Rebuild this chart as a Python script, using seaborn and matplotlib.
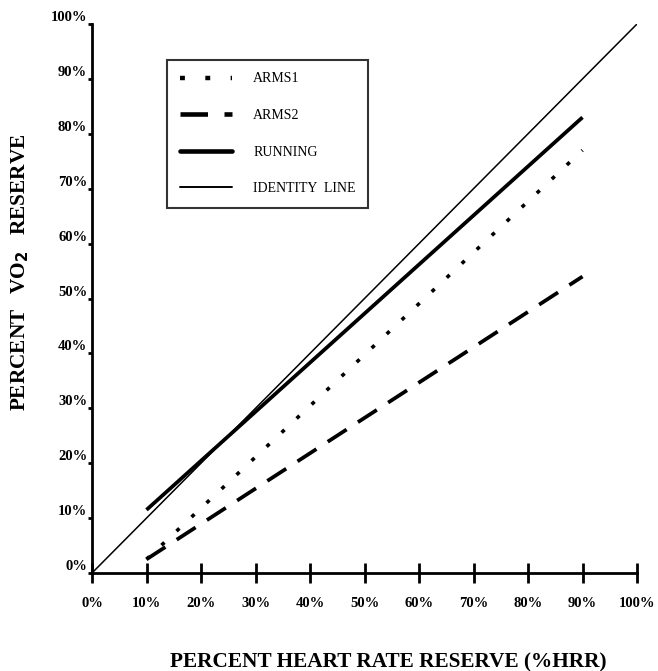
import matplotlib
matplotlib.use("Agg")
import matplotlib.pyplot as plt
import seaborn as sns
import pandas as pd
from matplotlib.lines import Line2D

# ---- data ----
hrr = [10, 90]
arms1 = [2.5, 77]
arms2 = [2.5, 54]
running = [11.5, 83]
identity_x = [0, 100]
identity_y = [0, 100]
tick_vals = list(range(0, 101, 10))
tick_labels = [f"{v}%" for v in tick_vals]
series_names = ["ARMS1", "ARMS2", "RUNNING", "IDENTITY  LINE"]

sns.set_theme(style="white")
plt.rcParams['font.family'] = ['Liberation Serif', 'DejaVu Serif']
plt.rcParams['text.color'] = 'black'
plt.rcParams['axes.labelcolor'] = 'black'
plt.rcParams['xtick.color'] = 'black'
plt.rcParams['ytick.color'] = 'black'

fig = plt.figure(figsize=(6.58, 6.71), dpi=100)
ax = fig.add_axes([92/658, 1-573/671, (637-92)/658, (573-24)/671])

df1 = pd.DataFrame({"x": hrr, "y": arms1})
df2 = pd.DataFrame({"x": hrr, "y": arms2})
df3 = pd.DataFrame({"x": hrr, "y": running})
df4 = pd.DataFrame({"x": identity_x, "y": identity_y})

styles = {
    "ARMS1": dict(lw=2.6, dashes=(1.1, 4.6)),
    "ARMS2": dict(lw=2.7, dashes=(6.0, 3.6)),
    "RUNNING": dict(lw=2.7, dashes=None),
    "IDENTITY  LINE": dict(lw=1.1, dashes=None),
}

for name, d in zip(series_names, [df1, df2, df3, df4]):
    st = styles[name]
    sns.lineplot(data=d, x="x", y="y", ax=ax, color="black",
                 linewidth=st["lw"], legend=False)
    l = ax.lines[-1]
    if st["dashes"] is not None:
        l.set_dashes(st["dashes"])
    l.set_solid_capstyle("butt")
    l.set_dash_capstyle("butt")

ax.set_xlim(0, 100)
ax.set_ylim(0, 100)
ax.set_xticks(tick_vals)
ax.set_xticklabels(tick_labels)
ax.set_yticks(tick_vals)
ax.set_yticklabels(tick_labels)
for s in ["top", "right"]:
    ax.spines[s].set_visible(False)
for s in ["left", "bottom"]:
    ax.spines[s].set_linewidth(2.0)
    ax.spines[s].set_color("black")
ax.tick_params(axis="x", direction="inout", length=14, width=2.0, pad=10,
               labelsize=10.5, bottom=True)
ax.tick_params(axis="y", direction="out", length=3, width=2.0, pad=0.5,
               labelsize=10.5, left=True)
for t in ax.get_xticklabels() + ax.get_yticklabels():
    t.set_fontweight("bold")
for t in ax.get_yticklabels():
    t.set_verticalalignment("bottom")
ax.grid(False)

ax.set_xlabel("PERCENT HEART RATE RESERVE (%HRR)", fontsize=15.3,
              fontweight="bold")
ax.xaxis.set_label_coords((388-92)/545, -(662-573)/549)
ax.xaxis.label.set_verticalalignment("center")
ax.set_ylabel("PERCENT   VO$_\\mathbf{2}$   RESERVE", fontsize=15.3,
              fontweight="bold")
ax.yaxis.set_label_coords((20-92)/545, (573-272)/549)
ax.yaxis.label.set_verticalalignment("center")

handles = []
for name in series_names:
    st = styles[name]
    h = Line2D([0], [0], color="black", lw=st["lw"] + (0.6 if name != "IDENTITY  LINE" else 0.3))
    if st["dashes"] is not None:
        h.set_dashes(st["dashes"])
    h.set_dash_capstyle("butt")
    handles.append(h)

leg = ax.legend(handles, series_names, loc="upper left",
                bbox_to_anchor=((167-92)/545, 1-(60-24)/549),
                frameon=True, fancybox=False, edgecolor="black",
                fontsize=10, handlelength=3.8, handletextpad=1.5,
                labelspacing=1.7, borderpad=0.9, borderaxespad=0)
leg.get_frame().set_linewidth(1.5)

fig.savefig("out.png", dpi=100)
